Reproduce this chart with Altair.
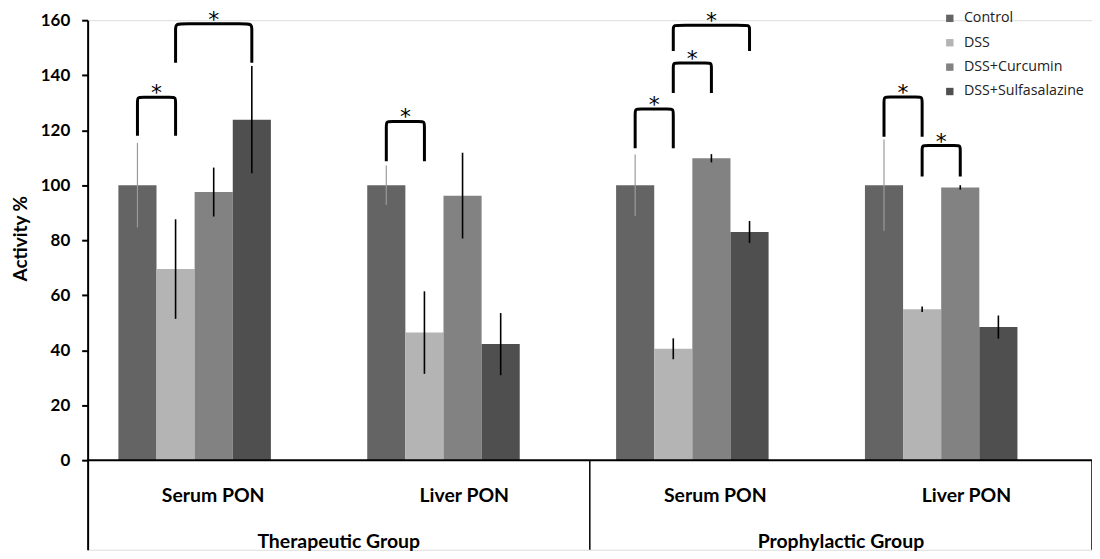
import altair as alt
import pandas as pd

# ---------------- data ----------------
series = ["Control", "DSS", "DSS+Curcumin", "DSS+Sulfasalazine"]
colors = ["#646464", "#b4b4b4", "#828282", "#4f4f4f"]
subgroups = ["Serum PON", "Liver PON", "Serum PON", "Liver PON"]
supergroups = ["Therapeutic Group", "Prophylactic Group"]
y_ticks = [0, 20, 40, 60, 80, 100, 120, 140, 160]

control_vals = [100, 100, 100, 100]
control_err = [15.4, 7.2, 11.2, 16.6]
dss_vals = [69.5, 46.4, 40.5, 54.9]
dss_err = [18.1, 15.0, 3.8, 1.0]
curc_vals = [97.5, 96.2, 109.8, 99.2]
curc_err = [8.9, 15.6, 1.5, 0.8]
sulfa_vals = [123.8, 42.2, 83.0, 48.4]
sulfa_err = [19.5, 11.3, 4.0, 4.2]

# significance brackets: group index, left series, right series, leg bottom, bracket top
br_group = [0, 0, 1, 2, 2, 2, 3, 3]
br_left = ["Control", "DSS", "Control", "Control", "DSS", "DSS", "Control", "DSS"]
br_right = ["DSS", "DSS+Sulfasalazine", "DSS", "DSS", "DSS+Curcumin",
            "DSS+Sulfasalazine", "DSS", "DSS+Curcumin"]
br_bottom = [118.0, 144.5, 108.7, 113.4, 133.5, 148.8, 117.6, 103.2]
br_top = [132.0, 158.7, 123.2, 127.7, 144.4, 158.2, 132.1, 114.4]

# ---------------- layout constants ----------------
W, H = 1009, 532
BAR_W = 0.1532              # bar width as fraction of group spacing
X_MIN = -0.43
X_MAX = X_MIN + W / 250.0
Y_MIN = -(H - 442) / (442 / 160.0)   # axis extends below 0 to hold category box
Y_MAX = 160

vals = [control_vals, dss_vals, curc_vals, sulfa_vals]
errs = [control_err, dss_err, curc_err, sulfa_err]

rows = []
for si, s in enumerate(series):
    for gi in range(4):
        c = gi + (si - 1.5) * BAR_W
        v, e = vals[si][gi], errs[si][gi]
        rows.append(dict(series=s, g=gi, xc=c, x0=c - BAR_W / 2, x1=c + BAR_W / 2,
                         value=v, lo=v - e, hi=v + e))
bars_df = pd.DataFrame(rows)


def center(gi, s):
    return gi + (series.index(s) - 1.5) * BAR_W


line_rows, star_rows = [], []
for i in range(len(br_group)):
    xl = center(br_group[i], br_left[i])
    xr = center(br_group[i], br_right[i])
    b, t = br_bottom[i], br_top[i]
    pts = [(xl, b), (xl, t), (xl, t), (xr, t), (xr, t), (xr, b)]
    for k, (px, py) in enumerate(pts):
        line_rows.append(dict(id=i, o=k, x=px, y=py))
    star_rows.append(dict(x=(xl + xr) / 2, y=t, t="*"))
lines_df = pd.DataFrame(line_rows)
stars_df = pd.DataFrame(star_rows)

span = X_MAX - X_MIN
sub_df = pd.DataFrame(dict(label=subgroups,
                           x=[X_MIN + (k + 0.5) * span / 4 for k in range(4)]))
sup_df = pd.DataFrame(dict(label=supergroups,
                           x=[X_MIN + (k + 0.5) * span / 2 for k in range(2)]))
box_df = pd.DataFrame(dict(x=[X_MIN + span / 2, X_MAX]))
base_df = pd.DataFrame(dict(x=[X_MIN], x2=[X_MAX], y=[0]))

xs = alt.Scale(domain=[X_MIN, X_MAX], nice=False, zero=False)
ys = alt.Scale(domain=[Y_MIN, Y_MAX], nice=False, zero=False)
FONT = "Lato"

bars = alt.Chart(bars_df).mark_bar().encode(
    x=alt.X("x0:Q", scale=xs, axis=None),
    x2="x1:Q",
    y=alt.Y("value:Q", scale=ys,
            axis=alt.Axis(values=y_ticks, title="Activity %", grid=False,
                          labelFont=FONT, labelFontWeight="bold", labelFontSize=17,
                          labelColor="black", tickColor="black", tickWidth=2,
                          tickSize=6, labelPadding=12, domainColor="black",
                          domainWidth=2, titleFont=FONT, titleFontSize=19,
                          titleFontWeight="bold", titleColor="black",
                          titleBaseline="middle", titleAlign="center",
                          titleX=-67, titleY=219)),
    y2=alt.Y2(datum=0),
    color=alt.Color("series:N", scale=alt.Scale(domain=series, range=colors),
                    legend=alt.Legend(title=None, orient="none", legendX=859,
                                      legendY=-9, symbolType="square",
                                      symbolSize=55, symbolStrokeWidth=0,
                                      labelFont="Open Sans", labelFontSize=14.3,
                                      labelColor="#222", rowPadding=9.5,
                                      labelOffset=7, padding=0)),
)

err = alt.Chart(bars_df).mark_rule().encode(
    x="xc:Q", y="lo:Q", y2="hi:Q",
    color=alt.condition(alt.datum.series == "Control", alt.value("#9a9a9a"),
                        alt.value("black")),
    strokeWidth=alt.condition(alt.datum.series == "Control", alt.value(1.2),
                              alt.value(1.6)),
)

brackets = alt.Chart(lines_df).mark_line(color="black", strokeWidth=3,
                                         interpolate="basis").encode(
    x="x:Q", y="y:Q", detail="id:N", order="o:Q")

stars = alt.Chart(stars_df).mark_text(font="DejaVu Sans", fontSize=22,
                                      baseline="alphabetic", dy=3,
                                      color="black").encode(
    x="x:Q", y="y:Q", text="t:N")

baseline = alt.Chart(base_df).mark_rule(color="black", strokeWidth=2).encode(
    x="x:Q", x2="x2:Q", y="y:Q")

box = alt.Chart(box_df).mark_rule(color="black", strokeWidth=1.5).encode(
    x="x:Q", y=alt.Y(datum=0), y2=alt.Y2(datum=Y_MIN))

sub_txt = alt.Chart(sub_df).mark_text(font=FONT, fontSize=19.5, fontWeight="bold",
                                      color="black", baseline="middle").encode(
    x="x:Q", y=alt.value(478), text="label:N")

sup_txt = alt.Chart(sup_df).mark_text(font=FONT, fontSize=19.5, fontWeight="bold",
                                      color="black", baseline="middle").encode(
    x="x:Q", y=alt.value(524), text="label:N")

chart = alt.layer(bars, err, brackets, stars, baseline, box, sub_txt, sup_txt).properties(
    width=W, height=H,
    autosize=alt.AutoSizeParams(type="none"),
    padding={"left": 80, "top": 11, "right": 0, "bottom": 0},
).configure_view(stroke=None).configure(background="white")

chart.save("out.html", embed_options={"renderer": "svg", "actions": False})
